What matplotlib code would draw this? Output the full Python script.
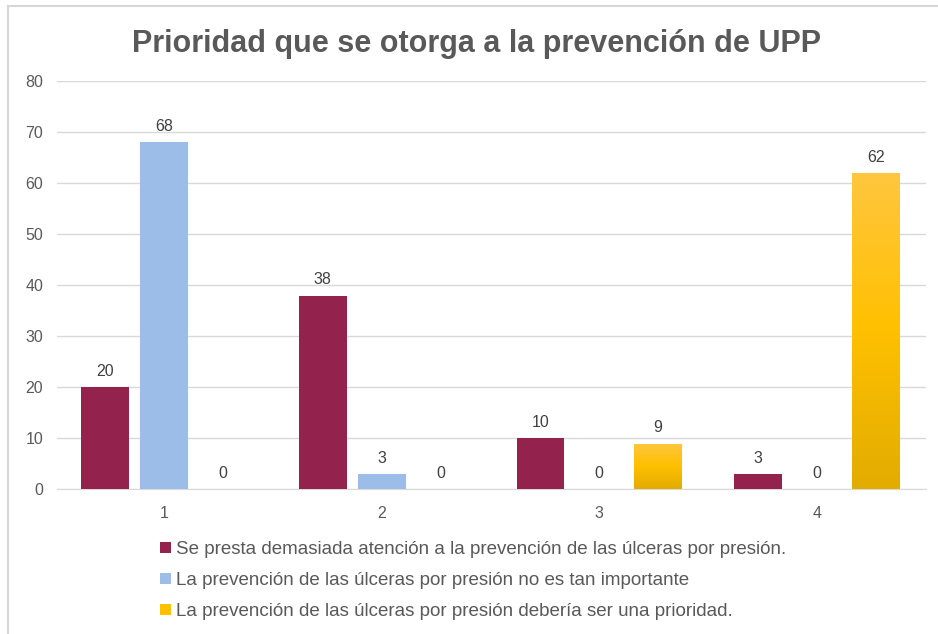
import numpy as np
import matplotlib.pyplot as plt
from matplotlib.lines import Line2D
from matplotlib.colors import LinearSegmentedColormap

categorias = ['1', '2', '3', '4']
serie_demasiada = [20, 38, 10, 3]
serie_no_importante = [68, 3, 0, 0]
serie_prioridad = [0, 0, 9, 62]
nombres = ['Se presta demasiada atención a la prevención de las úlceras por presión.',
           'La prevención de las úlceras por presión no es tan importante',
           'La prevención de las úlceras por presión debería ser una prioridad.']
colores = ['#93224C', '#9BBDE8', '#FFC000']

plt.rcParams['font.family'] = ['Liberation Sans', 'DejaVu Sans']
gris = '#595959'

fig = plt.figure(figsize=(9.38, 6.34), dpi=100)
# borde del recorte: solo arriba e izquierda
fig.lines.append(Line2D([0.008, 1.0], [0.99, 0.99], transform=fig.transFigure, color='#D6D6D6', lw=1.5))
fig.lines.append(Line2D([0.008, 0.008], [0.0, 0.99], transform=fig.transFigure, color='#D6D6D6', lw=1.5))
ax = fig.add_axes([0.061, 0.228, 0.926, 0.644])

x = np.arange(len(categorias))
ancho = 0.22
paso = 0.27
series = [serie_demasiada, serie_no_importante, serie_prioridad]
oro = LinearSegmentedColormap.from_list('oro', ['#E2AC00', '#FFC000', '#FFC63F'])

for i, (vals, col, nom) in enumerate(zip(series, colores, nombres)):
    pos = x + (i - 1) * paso
    barras = ax.bar(pos, vals, ancho, color=col, label=nom, zorder=3)
    if i == 2:
        grad = np.linspace(0, 1, 256).reshape(-1, 1)
        for b in barras:
            if b.get_height() > 0:
                img = ax.imshow(grad, cmap=oro, origin='lower', aspect='auto', zorder=3.5,
                                extent=[b.get_x(), b.get_x() + b.get_width(), 0, b.get_height()])
                img.set_clip_path(b)
    for p, v in zip(pos, vals):
        ax.text(p, v + 1.6, str(v), ha='center', va='bottom', fontsize=11.5, color='#404040')

ax.set_xlim(-0.49, 3.5)
ax.set_ylim(0, 80)
ax.set_yticks(range(0, 81, 10))
ax.set_xticks(x)
ax.set_xticklabels(categorias)
ax.tick_params(axis='both', length=0, colors=gris, labelsize=11.5)
ax.tick_params(axis='x', pad=12)
ax.tick_params(axis='y', pad=10)
ax.grid(axis='y', color='#D9D9D9', lw=1, zorder=0)
for s in ['top', 'right', 'left']:
    ax.spines[s].set_visible(False)
ax.spines['bottom'].set_color('#D9D9D9')

fig.text(0.508, 0.93, 'Prioridad que se otorga a la prevención de UPP', ha='center', va='center',
         fontsize=22, fontweight='bold', color=gris)

fig.legend(loc='upper left', bbox_to_anchor=(0.163, 0.158), frameon=False, fontsize=13.5,
           labelcolor=gris, handlelength=0.55, handleheight=0.55, handletextpad=0.3,
           labelspacing=0.75, borderaxespad=0)

fig.savefig('out.png', dpi=100)
